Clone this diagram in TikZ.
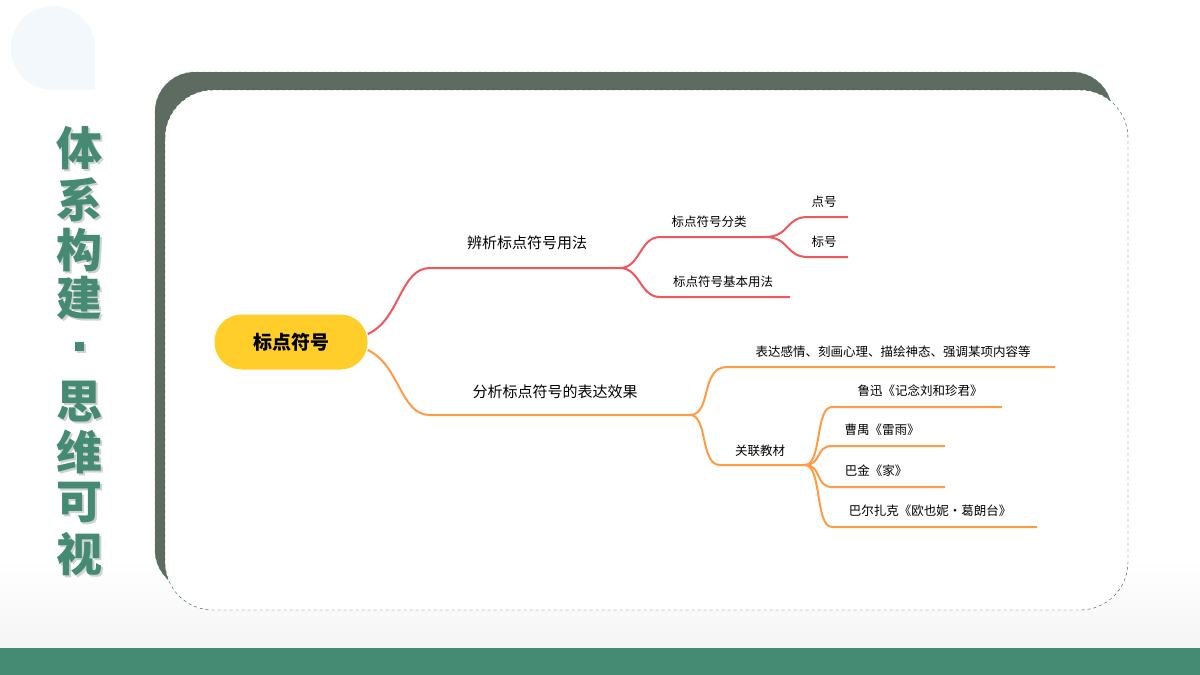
\documentclass[tikz,border=0pt]{standalone}
\usepackage{fontspec}
\newfontfamily\cjk{Noto Sans CJK SC}
\definecolor{dgreen}{HTML}{458B73}
\definecolor{frame}{HTML}{5E6B60}
\definecolor{redb}{HTML}{F0565A}
\definecolor{orb}{HTML}{FF9A45}
\definecolor{yel}{HTML}{FFCE2A}
\definecolor{drop}{HTML}{F3F8FC}
\tikzset{
 lbl/.style={font=\cjk\fontsize{15}{17}\selectfont, inner sep=0pt},
 lbs/.style={font=\cjk\fontsize{12.5}{14}\selectfont, inner sep=0pt},
 rl/.style={draw=redb, line width=2pt},
 ol/.style={draw=orb, line width=2pt},
 ttl/.style={font=\cjk\bfseries\fontsize{46}{46}\selectfont, text=dgreen, inner sep=0pt}
}
\begin{document}
\begin{tikzpicture}[x=1pt,y=-1pt]
\useasboundingbox (0,0) rectangle (1200,675);
\fill[white] (0,0) rectangle (1200,675);
\shade[top color=white,bottom color=black!4] (0,560) rectangle (1200,648);
\fill[dgreen] (0,648) rectangle (1200,675);
% teardrop
\fill[drop] (95,90) -- (95,48) arc[start angle=0,end angle=-180,radius=42] arc[start angle=-180,end angle=-270,radius=42] -- cycle;
% frames
\fill[frame, rounded corners=40] (155,72) rectangle (1112,590);
\draw[dgreen, dashed, rounded corners=40] (155,72) rectangle (1112,590);
\filldraw[fill=white, draw=dgreen!60!black, dashed, rounded corners=48] (165,90) rectangle (1128,610);
% title
\foreach \c/\y in {体/148,系/200,构/250,建/298,思/402,维/452,可/502,视/554}{
 \node[ttl, text=black!18] at (81,\y+2) {\c};
 \node[ttl] at (79,\y) {\c};
}
\fill[black!18] (77,344) rectangle (86,353);
\fill[dgreen] (75,342) rectangle (84,351);
% mind map
\node[fill=yel, rounded corners=27, minimum width=153, minimum height=55, font=\cjk\bfseries\fontsize{19}{20}\selectfont] (root) at (291,342) {标点符号};
\coordinate (r1) at (620,268); \coordinate (r1s) at (430,268);
\draw[rl] (root.east) ++(0,-8) coordinate (rs) .. controls (400,320) and (400,268) .. (r1s) -- (r1);
\node[lbl] (t1) at (527,243) {辨析标点符号用法};
\coordinate (a) at (765,237); \coordinate (b) at (790,297);
\draw[rl] (r1) .. controls (640,268) and (640,237) .. (660,237) -- (a);
\draw[rl] (r1) .. controls (640,268) and (640,297) .. (660,297) -- (b);
\node[lbs] (ta) at (709,222) {标点符号分类};
\node[lbs] (tb) at (723,282) {标点符号基本用法};
\coordinate (c) at (848,217); \coordinate (d) at (848,257);
\draw[rl] (a) .. controls (790,237) and (785,217) .. (808,217) -- (c);
\draw[rl] (a) .. controls (790,237) and (785,257) .. (808,257) -- (d);
\node[lbs] (tc) at (824,202) {点号};
\node[lbs] (td) at (824,242) {标号};
% orange
\coordinate (o1) at (690,415);
\draw[ol] (root.east) ++(0,8) .. controls (400,365) and (400,415) .. (430,415) -- (o1);
\node[lbl] (t2) at (555,392) {分析标点符号的表达效果};
\coordinate (e) at (1055,367); \coordinate (f) at (805,465);
\draw[ol] (o1) .. controls (712,415) and (700,367) .. (727,367) -- (e);
\draw[ol] (o1) .. controls (708,415) and (700,465) .. (720,465) -- (f);
\node[lbs] (te) at (893,352) {表达感情、刻画心理、描绘神态、强调某项内容等};
\node[lbs] (tf) at (760,451) {关联教材};
\foreach \n/\xe/\y/\xl/\t in {g/1002/407/920/鲁迅《记念刘和珍君》, h/945/446/882/曹禺《雷雨》, i/945/487/876/巴金《家》, j/1037/527/930/巴尔扎克《欧也妮·葛朗台》}{
 \coordinate (\n) at (\xe,\y);
 \draw[ol] (f) .. controls (822,465) and (815,\y) .. (832,\y) -- (\n);
 \node[lbs] (t\n) at (\xl,\y-16) {\t};
}
\end{tikzpicture}
\end{document}
